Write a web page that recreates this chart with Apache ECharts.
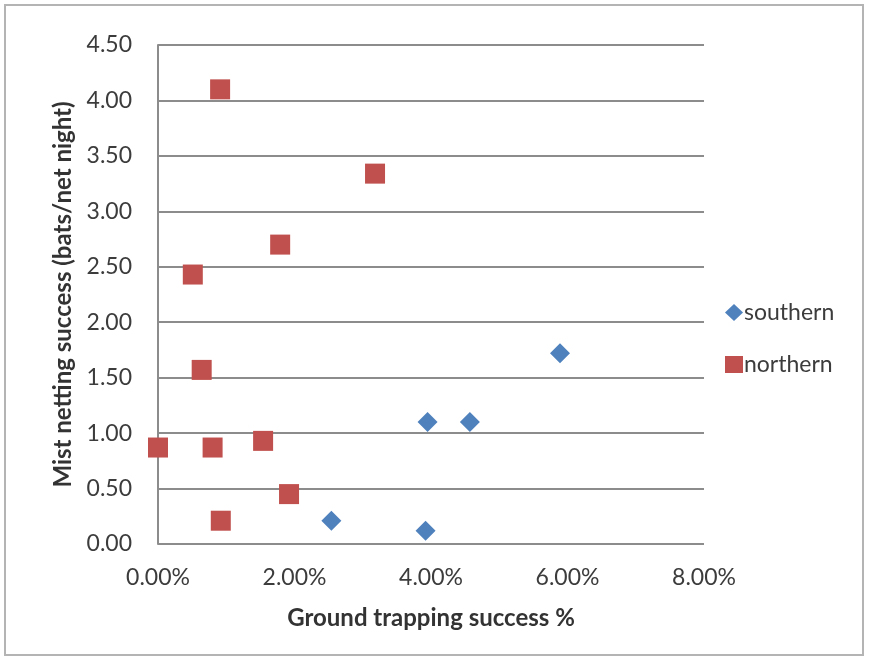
<!DOCTYPE html>
<html>
<head>
<meta charset="utf-8">
<script src="https://cdn.jsdelivr.net/npm/echarts@6/dist/echarts.min.js"></script>
<style>
  html, body { margin: 0; padding: 0; background: #fff; }
  #frame { position: absolute; left: 4px; top: 4px; width: 860px; height: 652px; border: 2px solid #b4b4b4; box-sizing: border-box; }
  #chart { position: absolute; left: 0; top: 0; width: 869px; height: 661px; }
</style>
</head>
<body>
<div id="frame"></div>
<div id="chart"></div>
<script>
// Ground trapping success (%) vs mist netting success (bats/net night)
const seriesNames = ['southern', 'northern'];
const southern = [[2.54, 0.21], [3.92, 0.12], [3.95, 1.10], [4.57, 1.10], [5.89, 1.72]];
const northern = [[0.91, 4.10], [3.18, 3.34], [1.79, 2.70], [0.51, 2.43], [0.64, 1.57],
                  [0.00, 0.87], [0.80, 0.87], [1.54, 0.93], [1.92, 0.45], [0.92, 0.21]];
const xAxisTitle = 'Ground trapping success %';
const yAxisTitle = 'Mist netting success (bats/net night)';

const font = 'Lato, "Open Sans", sans-serif';
const textColor = '#3c3c3c';
const chart = echarts.init(document.getElementById('chart'));
chart.setOption({
  animation: false,
  textStyle: { fontFamily: font },
  grid: { left: 158, right: 165, top: 45, bottom: 117 },
  legend: {
    orient: 'vertical',
    left: 720, top: 296,
    itemGap: 29,
    itemWidth: 18, itemHeight: 17,
    textStyle: { fontSize: 23, color: textColor, fontFamily: font, padding: [0, 0, 0, -4] },
    data: [
      { name: seriesNames[0], icon: 'diamond', itemStyle: { color: '#4F81BD' } },
      { name: seriesNames[1], icon: 'rect', itemStyle: { color: '#C0504D' } }
    ]
  },
  xAxis: {
    type: 'value', min: 0, max: 8, interval: 2,
    name: xAxisTitle, nameLocation: 'middle', nameGap: 62,
    nameTextStyle: { fontSize: 24, fontWeight: 'bold', color: '#333', fontFamily: font },
    axisLine: { show: false },
    axisTick: { show: false },
    splitLine: { show: false },
    axisLabel: { fontSize: 23, color: textColor, margin: 22, formatter: v => v.toFixed(2) + '%' }
  },
  yAxis: {
    type: 'value', min: 0, max: 4.5, interval: 0.5,
    name: yAxisTitle, nameLocation: 'middle', nameGap: 83, nameRotate: 90,
    nameTextStyle: { fontSize: 24, fontWeight: 'bold', color: '#333', fontFamily: font },
    axisLine: { show: true, lineStyle: { color: '#8c8c8c', width: 2 } },
    axisTick: { show: false },
    splitLine: { show: true, lineStyle: { color: '#8c8c8c', width: 2 } },
    axisLabel: { fontSize: 23, color: textColor, margin: 26, formatter: v => v.toFixed(2) }
  },
  series: [
    {
      name: seriesNames[0], type: 'scatter', data: southern,
      symbol: 'diamond', symbolSize: 20,
      itemStyle: { color: '#4F81BD', opacity: 1 }
    },
    {
      name: seriesNames[1], type: 'scatter', data: northern,
      symbol: 'rect', symbolSize: 20,
      itemStyle: { color: '#C0504D', opacity: 1 }
    }
  ]
});
</script>
</body>
</html>
